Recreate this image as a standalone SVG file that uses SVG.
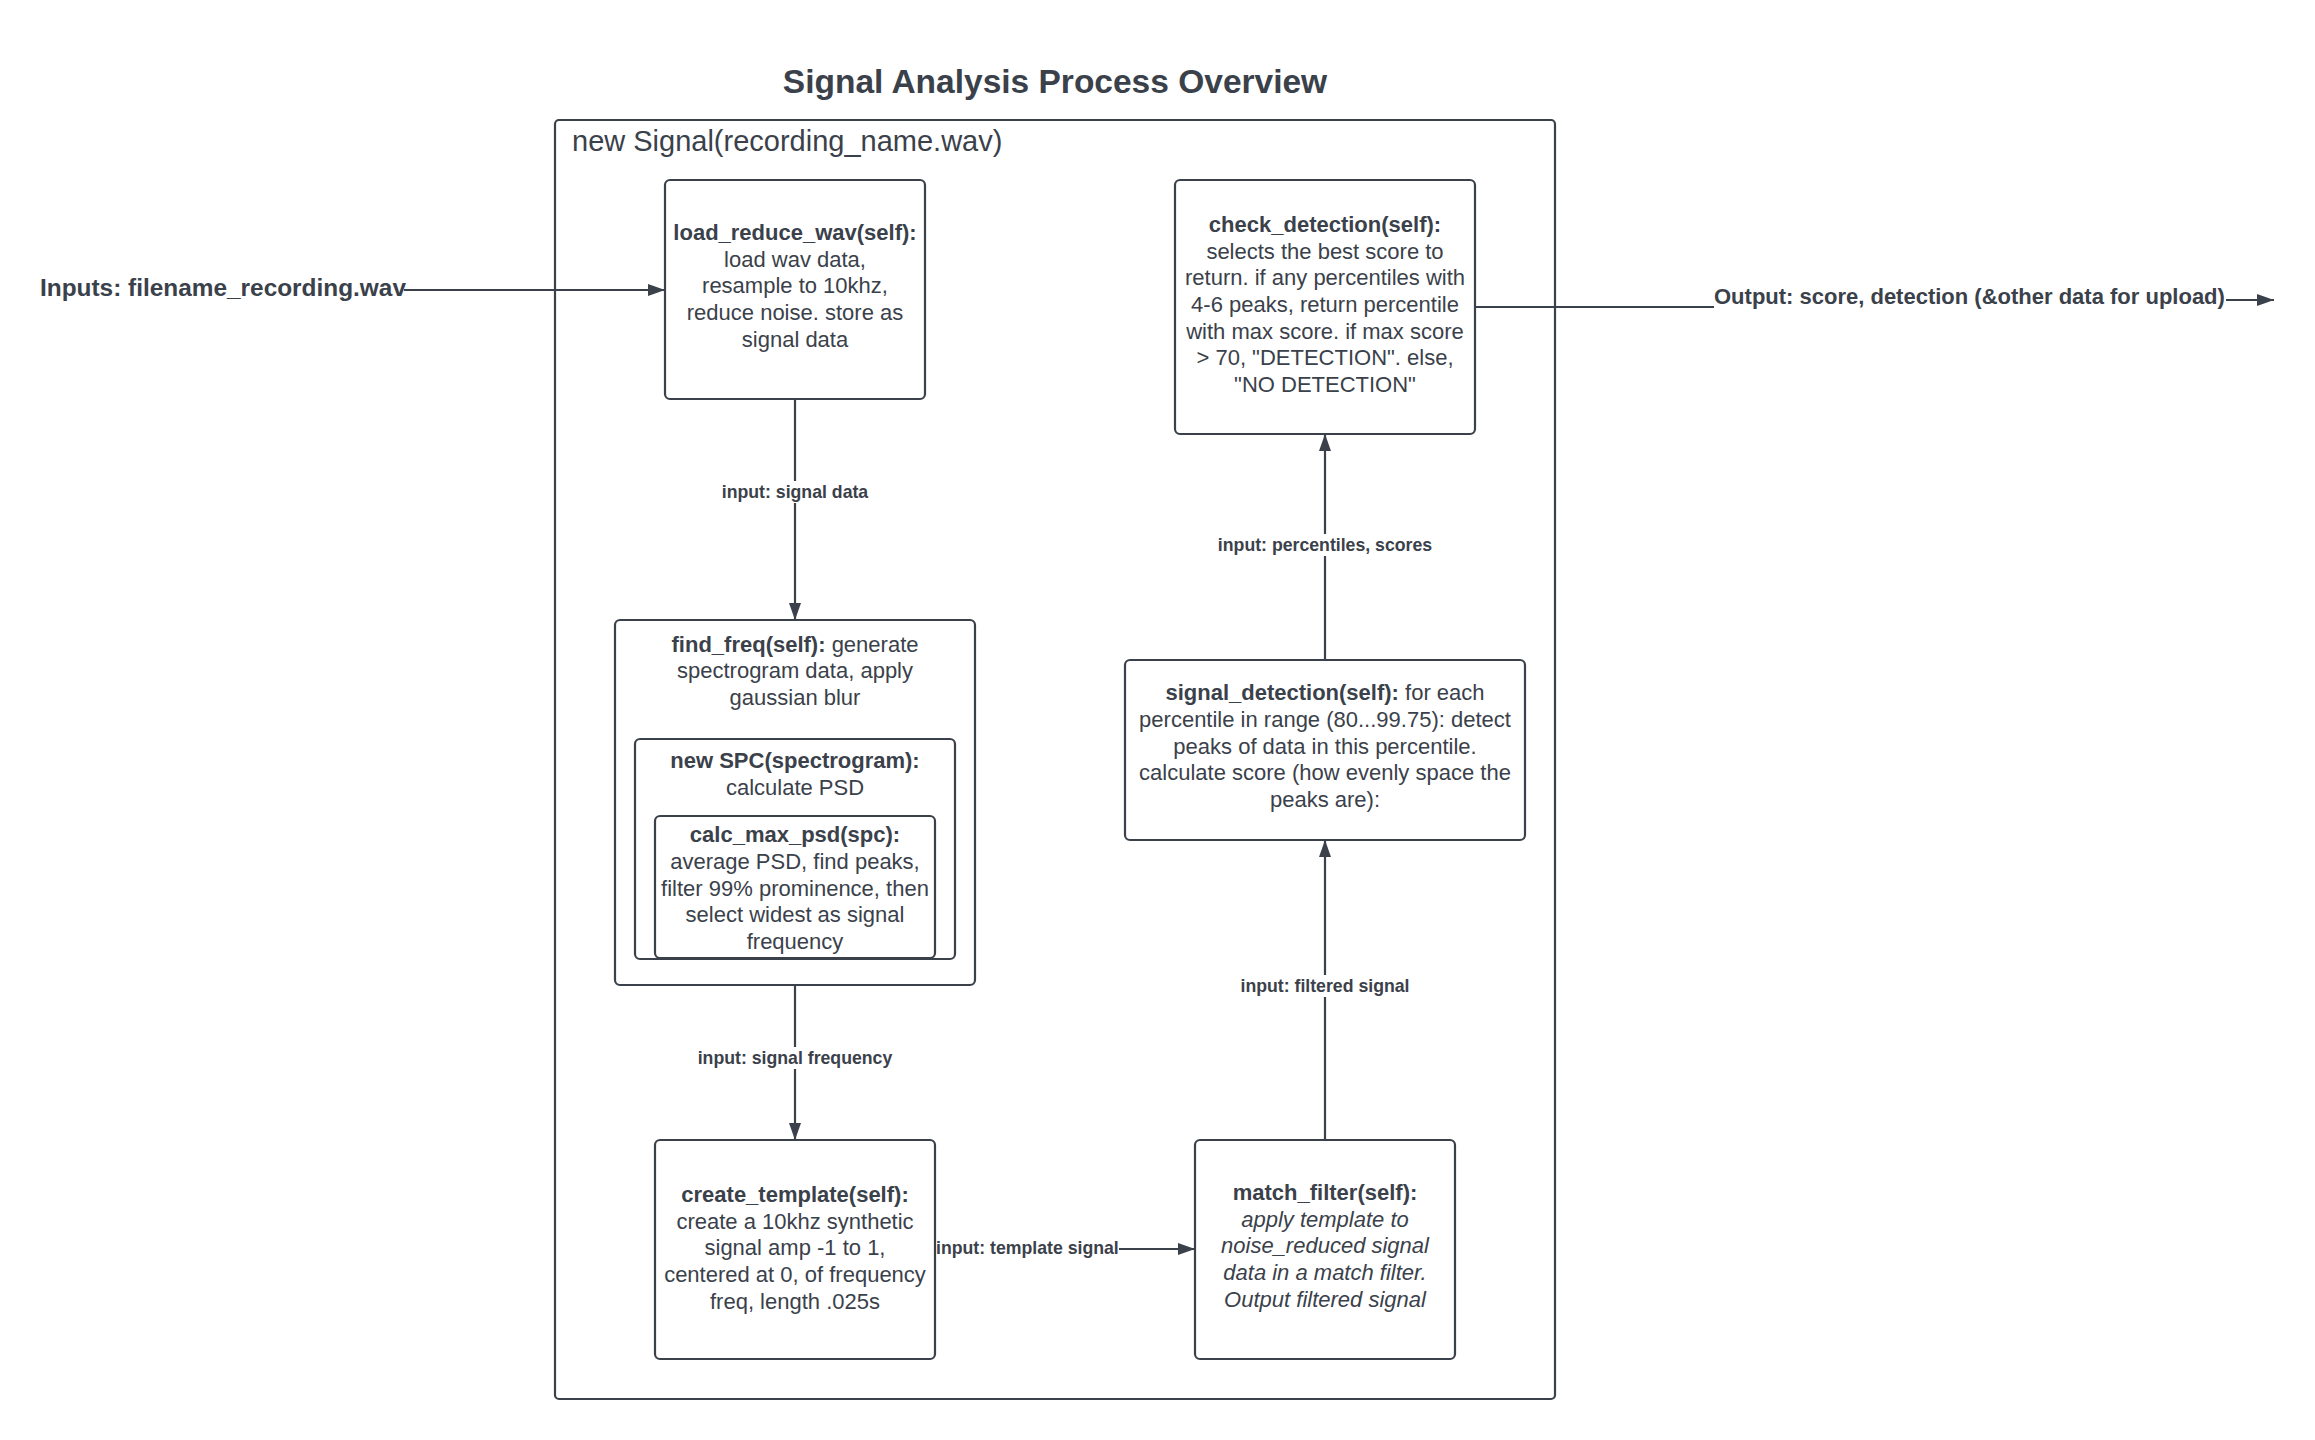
<svg xmlns="http://www.w3.org/2000/svg" width="2315" height="1440" viewBox="0 0 2315 1440">
<style>
  text { font-family: "Liberation Sans", Arial, sans-serif; fill: #3a414a; }
  .title { font-size: 33.5px; font-weight: bold; }
  .cont { font-size: 29px; }
  .body { font-size: 22px; text-anchor: middle; }
  .b { font-weight: bold; }
  .i { font-style: italic; }
  .io { font-size: 22px; font-weight: bold; }
  .lbl { font-size: 17.7px; font-weight: bold; }
  .mid { text-anchor: middle; }
  .box { fill: #ffffff; stroke: #3a414a; stroke-width: 2.2; }
  .edge { fill: none; stroke: #3a414a; stroke-width: 2.2; }
  .bg { fill: #ffffff; }
</style>
<defs>
  <marker id="arr" markerWidth="17" markerHeight="12" refX="17" refY="6" orient="auto" markerUnits="userSpaceOnUse">
    <path d="M0,0 L17,6 L0,12 z" fill="#3a414a"/>
  </marker>
</defs>
<rect width="2315" height="1440" fill="#ffffff"/>

<text class="title mid" x="1055" y="93">Signal Analysis Process Overview</text>

<g id="container">
  <rect class="box" x="555" y="120" width="1000" height="1279" rx="4"/>
  <text class="cont" x="572" y="151">new Signal(recording_name.wav)</text>
</g>

<g id="connectors">
  <line class="edge" x1="404" y1="290" x2="665" y2="290" marker-end="url(#arr)"/>
  <line class="edge" x1="795" y1="399" x2="795" y2="620" marker-end="url(#arr)"/>
  <line class="edge" x1="795" y1="985" x2="795" y2="1140" marker-end="url(#arr)"/>
  <line class="edge" x1="935" y1="1249" x2="1195" y2="1249" marker-end="url(#arr)"/>
  <line class="edge" x1="1325" y1="1140" x2="1325" y2="840" marker-end="url(#arr)"/>
  <line class="edge" x1="1325" y1="660" x2="1325" y2="434" marker-end="url(#arr)"/>
  <line class="edge" x1="1475" y1="307" x2="1714" y2="307"/>
  <line class="edge" x1="2226" y1="300" x2="2274" y2="300" marker-end="url(#arr)"/>

  <rect class="bg" x="720" y="481" width="150" height="22"/>
  <text class="lbl mid" x="795" y="498">input: signal data</text>
  <rect class="bg" x="696" y="1047" width="198" height="22"/>
  <text class="lbl mid" x="795" y="1064">input: signal frequency</text>
  <rect class="bg" x="1239" y="975" width="172" height="22"/>
  <text class="lbl mid" x="1325" y="992">input: filtered signal</text>
  <rect class="bg" x="1217" y="534" width="216" height="22"/>
  <text class="lbl mid" x="1325" y="551">input: percentiles, scores</text>
  <rect class="bg" x="936" y="1237" width="183" height="22"/>
  <text class="lbl" x="936" y="1254">input: template signal</text>

  <text class="io" x="40" y="296" style="font-size:24.4px">Inputs: filename_recording.wav</text>
  <text class="io" x="1714" y="304">Output: score, detection (&amp;other data for upload)</text>
</g>

<g id="load_reduce_wav">
  <rect class="box" x="665" y="180" width="260" height="219" rx="5"/>
  <text class="body b" x="795" y="240">load_reduce_wav(self):</text>
  <text class="body" x="795" y="267">load wav data,</text>
  <text class="body" x="795" y="293">resample to 10khz,</text>
  <text class="body" x="795" y="320">reduce noise. store as</text>
  <text class="body" x="795" y="347">signal data</text>
</g>

<g id="find_freq">
  <rect class="box" x="615" y="620" width="360" height="365" rx="5"/>
  <text class="body" x="795" y="652"><tspan class="b">find_freq(self):</tspan> generate</text>
  <text class="body" x="795" y="678">spectrogram data, apply</text>
  <text class="body" x="795" y="705">gaussian blur</text>
</g>

<g id="new_spc">
  <rect class="box" x="635" y="739" width="320" height="220" rx="5"/>
  <text class="body b" x="795" y="768">new SPC(spectrogram):</text>
  <text class="body" x="795" y="795">calculate PSD</text>
</g>

<g id="calc_max_psd">
  <rect class="box" x="655" y="816" width="280" height="142" rx="5"/>
  <text class="body b" x="795" y="842">calc_max_psd(spc):</text>
  <text class="body" x="795" y="869">average PSD, find peaks,</text>
  <text class="body" x="795" y="896">filter 99% prominence, then</text>
  <text class="body" x="795" y="922">select widest as signal</text>
  <text class="body" x="795" y="949">frequency</text>
</g>

<g id="create_template">
  <rect class="box" x="655" y="1140" width="280" height="219" rx="5"/>
  <text class="body b" x="795" y="1202">create_template(self):</text>
  <text class="body" x="795" y="1229">create a 10khz synthetic</text>
  <text class="body" x="795" y="1255">signal amp -1 to 1,</text>
  <text class="body" x="795" y="1282">centered at 0, of frequency</text>
  <text class="body" x="795" y="1309">freq, length .025s</text>
</g>

<g id="match_filter">
  <rect class="box" x="1195" y="1140" width="260" height="219" rx="5"/>
  <text class="body b" x="1325" y="1200">match_filter(self):</text>
  <text class="body i" x="1325" y="1227">apply template to</text>
  <text class="body i" x="1325" y="1253">noise_reduced signal</text>
  <text class="body i" x="1325" y="1280">data in a match filter.</text>
  <text class="body i" x="1325" y="1307">Output filtered signal</text>
</g>

<g id="signal_detection">
  <rect class="box" x="1125" y="660" width="400" height="180" rx="5"/>
  <text class="body" x="1325" y="700"><tspan class="b">signal_detection(self):</tspan> for each</text>
  <text class="body" x="1325" y="727">percentile in range (80...99.75): detect</text>
  <text class="body" x="1325" y="754">peaks of data in this percentile.</text>
  <text class="body" x="1325" y="780">calculate score (how evenly space the</text>
  <text class="body" x="1325" y="807">peaks are):</text>
</g>

<g id="check_detection">
  <rect class="box" x="1175" y="180" width="300" height="254" rx="5"/>
  <text class="body b" x="1325" y="232">check_detection(self):</text>
  <text class="body" x="1325" y="259">selects the best score to</text>
  <text class="body" x="1325" y="285">return. if any percentiles with</text>
  <text class="body" x="1325" y="312">4-6 peaks, return percentile</text>
  <text class="body" x="1325" y="339">with max score. if max score</text>
  <text class="body" x="1325" y="365">&gt; 70, "DETECTION". else,</text>
  <text class="body" x="1325" y="392">"NO DETECTION"</text>
</g>
</svg>
